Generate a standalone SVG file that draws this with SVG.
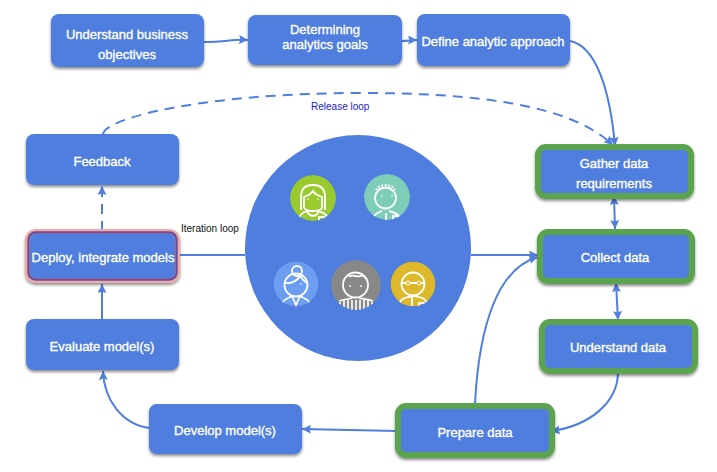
<svg xmlns="http://www.w3.org/2000/svg" width="717" height="472" viewBox="0 0 717 472">
<style>
.box{fill:#4f7ede;filter:url(#sh)}
.green{stroke:#5ba350;stroke-width:6}
.pink{stroke:#eeaaa6;stroke-width:5}
.inner{fill:none;stroke:#6b4f96;stroke-width:2.4}
.t{font-family:"Liberation Sans",Arial,sans-serif;font-size:13px;fill:#fff;stroke:#fff;stroke-width:.35;text-anchor:middle}
.c{fill:none;stroke:#4f7ede;stroke-width:2}
.d{stroke-dasharray:10 7}
.lab{font-family:"Liberation Sans",Arial,sans-serif;font-size:10px}
.face{fill:none;stroke:#fff;stroke-width:1.800}
.dot{fill:#fff}
</style>
<defs>
<filter id="sh" x="-10%" y="-15%" width="120%" height="135%"><feDropShadow dx="0" dy="2" stdDeviation="1.5" flood-color="#000" flood-opacity=".45"/></filter>
<marker id="a" markerUnits="userSpaceOnUse" markerWidth="11" markerHeight="10" refX="9" refY="4.500" orient="auto-start-reverse"><path d="M0 0L9 4.500L0 9L1.500 4.500Z" fill="#4f7ede"/></marker>
<clipPath id="cg"><circle cx="313" cy="198" r="23"/></clipPath>
<clipPath id="ct"><circle cx="387" cy="197" r="23"/></clipPath>
<clipPath id="cb"><circle cx="296" cy="284" r="22.500"/></clipPath>
<clipPath id="cy"><circle cx="356" cy="285" r="25"/></clipPath>
<clipPath id="co"><circle cx="413" cy="284" r="22.500"/></clipPath>
</defs>

<g id="hub">
<circle cx="358" cy="248" r="113" fill="#4f7ede"/>
</g>

<g id="connectors">
<path class="c" marker-end="url(#a)" d="M204 42C220 43 230 39 248 40"/>
<path class="c" marker-end="url(#a)" d="M402 41C408 41 411 40 417 40"/>
<path class="c" marker-end="url(#a)" d="M570 41C596 46 610 90 615 146"/>
<path class="c" marker-start="url(#a)" marker-end="url(#a)" d="M614 196L615 229"/>
<path class="c" d="M180 255H245"/>
<path class="c" marker-end="url(#a)" d="M471 255H538"/>
<path class="c" marker-end="url(#a)" d="M475 404C479 325 498 268 538 257"/>
<path class="c" marker-start="url(#a)" marker-end="url(#a)" d="M616 283L618 320"/>
<path class="c" marker-end="url(#a)" d="M618 372C618 402 590 426 551 431"/>
<path class="c" marker-end="url(#a)" d="M397 431L302 429"/>
<path class="c" marker-end="url(#a)" d="M149 428C122 424 104 400 103 371"/>
<path class="c" marker-end="url(#a)" d="M102 319V284"/>
<path class="c d" marker-end="url(#a)" d="M102 231V186"/>
<path class="c d" marker-end="url(#a)" d="M103 134C106 117 210 93 360 93C480 93 570 105 613 145"/>
</g>

<g id="n-objectives"><rect class="box" x="51" y="14" width="153" height="53" rx="8"/><text class="t" x="127" y="39">Understand business</text><text class="t" x="127" y="59">objectives</text></g>
<g id="n-goals"><rect class="box" x="248" y="15" width="154" height="50" rx="8"/><text class="t" x="325" y="34">Determining</text><text class="t" x="325" y="49">analytics goals</text></g>
<g id="n-approach"><rect class="box" x="417" y="14" width="153" height="52" rx="8"/><text class="t" x="493" y="46">Define analytic approach</text></g>
<g id="n-feedback"><rect class="box" x="26" y="134" width="153" height="51" rx="8"/><text class="t" x="102" y="166">Feedback</text></g>
<g id="n-deploy"><rect class="box pink" x="27.500" y="231.500" width="150" height="49" rx="8"/><rect class="inner" x="28.500" y="232.500" width="148" height="47" rx="7"/><text class="t" x="103" y="262">Deploy, integrate models</text></g>
<g id="n-evaluate"><rect class="box" x="26" y="319" width="153" height="51" rx="8"/><text class="t" x="102" y="351">Evaluate model(s)</text></g>
<g id="n-develop"><rect class="box" x="149" y="404" width="153" height="50" rx="8"/><text class="t" x="225" y="435">Develop model(s)</text></g>
<g id="n-prepare"><rect class="box green" x="398" y="406" width="154" height="49" rx="8"/><text class="t" x="475" y="437">Prepare data</text></g>
<g id="n-understand"><rect class="box green" x="542" y="322" width="153" height="49" rx="8"/><text class="t" x="618" y="352">Understand data</text></g>
<g id="n-collect"><rect class="box green" x="540" y="232" width="152" height="49" rx="8"/><text class="t" x="615" y="262">Collect data</text></g>
<g id="n-gather"><rect class="box green" x="538" y="147" width="153" height="49" rx="8"/><text class="t" x="614" y="168">Gather data</text><text class="t" x="614" y="188">requirements</text></g>

<g id="avatar-green" clip-path="url(#cg)">
<circle cx="313" cy="198" r="23" fill="#9acb2e"/>
<path class="face" d="M301 210V197C301 188 306 185 313 185C320 185 325 188 325 197V210"/>
<path class="face" d="M304 208V197C307 196 311 194 313 191C315 194 319 196 322 197V208"/>
<path class="face" d="M304 208C307 212 319 212 322 208M308 212C309 217 317 217 318 212M298 222C299 214 303 212 308 211M318 211C323 212 328 214 329 222"/>
<rect class="face" x="319" y="217" width="5" height="6"/>
<circle class="dot" cx="308" cy="199" r=".8"/><circle class="dot" cx="318" cy="199" r=".8"/>
</g>
<g id="avatar-teal" clip-path="url(#ct)">
<circle cx="387" cy="197" r="23" fill="#7dcdb9"/>
<circle class="face" cx="385.500" cy="198" r="10.500"/>
<path class="face" stroke-dasharray="2 1.500" d="M376 190C378 184 392 183 395 190"/>
<path class="face" d="M372 222C373 214 378 212 382 211M389 211C394 212 400 214 401 222M386 213V222"/>
<rect class="face" x="393" y="216" width="5" height="7"/>
<circle class="dot" cx="382" cy="196" r=".8"/><circle class="dot" cx="392" cy="196" r=".8"/>
</g>
<g id="avatar-blue" clip-path="url(#cb)">
<circle cx="296" cy="284" r="22.500" fill="#6d9df0"/>
<circle class="face" cx="296" cy="285" r="11.500"/>
<circle class="face" cx="297" cy="271" r="5"/>
<path class="face" d="M285 283C292 284 298 280 300 276M300 276C302 279 305 282 307 283"/>
<path class="face" d="M282 303C285 298 289 298 292 296L296 305L300 296C303 298 307 298 310 303"/>
<circle class="dot" cx="301" cy="284" r=".8"/>
</g>
<g id="avatar-gray" clip-path="url(#cy)">
<circle cx="356" cy="285" r="25" fill="#888888"/>
<circle class="face" cx="355.500" cy="285" r="12.500"/>
<path class="face" d="M349 277C352 273 356 278 360 276C362 275 365 276 366 279"/>
<circle class="dot" cx="350" cy="286" r=".9"/><circle class="dot" cx="361" cy="286" r=".9"/>
<path d="M340 310V302M344 310V300M348 310V300M352 310V300M356 310V300M360 310V300M364 310V300M368 310V300M372 310V302M339 301C344 299 350 299 352 298M359 298C362 299 368 299 373 301" fill="none" stroke="#fff" stroke-width="1.600"/>
</g>
<g id="avatar-yellow" clip-path="url(#co)">
<circle cx="413" cy="284" r="22.500" fill="#dcb82a"/>
<circle class="face" cx="413" cy="284" r="11.500"/>
<path class="face" d="M401 283H425"/>
<circle cx="408" cy="283" r="2" fill="#dcb82a" stroke="#fff"/><circle cx="419" cy="283" r="2" fill="#dcb82a" stroke="#fff"/>
<path class="face" d="M399 305C400 299 404 298 408 297C412 296 416 296 419 297C423 298 426 299 428 305M412 297V306"/>
<rect class="face" x="419" y="303" width="5" height="5"/>
</g>

<text class="lab" x="181" y="232" fill="#111">Iteration loop</text>
<text class="lab" x="311" y="110" fill="#1a1ad6">Release loop</text>
</svg>
